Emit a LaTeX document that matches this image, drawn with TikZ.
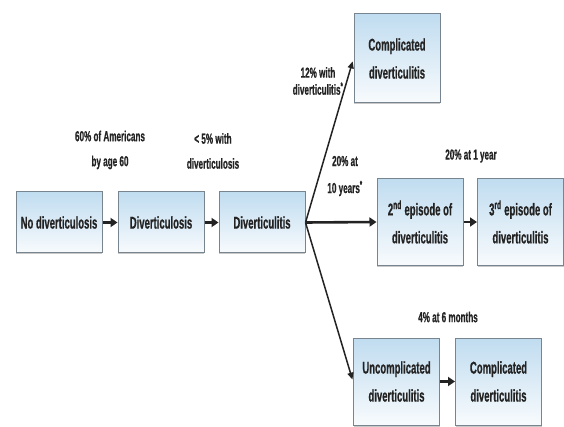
\documentclass[tikz,border=0pt]{standalone}
\usepackage{fontspec}
\usetikzlibrary{arrows.meta,shadows}
\newfontfamily\condfont[FakeStretch=0.56,FakeBold=0.6]{Liberation Sans Bold}
\definecolor{boxtop}{RGB}{192,220,240}
\definecolor{boxbot}{RGB}{248,251,253}
\definecolor{boxline}{RGB}{120,132,142}
\definecolor{txt}{RGB}{35,35,35}
\begin{document}
\begin{tikzpicture}[x=1pt,y=1pt,
  box/.style={draw=boxline, line width=1pt, top color=boxtop, bottom color=boxbot,
    minimum width=86pt, align=center, inner sep=0pt, text=txt,
    font={\fontsize{17}{28}\selectfont\condfont},
    drop shadow={opacity=0.35, shadow xshift=0pt, shadow yshift=-1.5pt, fill=black!60}},
  lab/.style={align=center, text=txt, font={\fontsize{14.5}{#1}\selectfont\condfont}},
  lab/.default=25,
  arr/.style={-{Triangle[length=7pt,width=9pt]}, line width=2.6pt, draw=txt},
  thin/.style={-{Triangle[length=7pt,width=6pt]}, line width=1.5pt, draw=txt}]
\useasboundingbox (0,0) rectangle (564,-427);
\fill[white] (0,0) rectangle (564,-427);
% main row
\node[box, minimum height=61pt] (nodiv) at (59,-222.5) {No diverticulosis};
\node[box, minimum height=61pt] (divosis) at (161,-222.5) {Diverticulosis};
\node[box, minimum height=61pt] (divitis) at (262,-222.5) {Diverticulitis};
% branches
\node[box, minimum height=89pt] (comp1) at (397,-58.5) {Complicated\\diverticulitis};
\node[box, minimum height=87pt] (ep2) at (420,-222) {2\textsuperscript{nd} episode of\\diverticulitis};
\node[box, minimum height=87pt] (ep3) at (520.5,-222) {3\textsuperscript{rd} episode of\\diverticulitis};
\node[box, minimum height=87pt] (uncomp) at (396.5,-381.5) {Uncomplicated\\diverticulitis};
\node[box, minimum height=87pt] (comp2) at (498.5,-381.5) {Complicated\\diverticulitis};
% labels
\node[lab] (l1) at (110,-150) {60\% of Americans\\by age 60};
\node[lab] (l2) at (213,-151) {< 5\% with\\diverticulosis};
\node[lab=17] (l3) at (318,-81) {12\% with\\diverticulitis\textsuperscript{*}};
\node[lab=27] (l4) at (345,-176) {20\% at\\10 years\textsuperscript{*}};
\node[lab] (l5) at (471,-156) {20\% at 1 year};
\node[lab] (l6) at (448,-317) {4\% at 6 months};
% connectors
\coordinate (hub) at (divitis.east);
\draw[arr] (nodiv) -- (divosis);
\draw[arr] (divosis) -- (divitis);
\draw[arr] (hub) -- (ep2.west);
\draw[arr] (ep2) -- (ep3);
\draw[arr] (uncomp) -- (comp2);
\draw[thin, shorten >=3pt] (hub) -- (comp1.west);
\draw[thin, shorten >=2pt] (hub) -- (uncomp.west);
\end{tikzpicture}
\end{document}
